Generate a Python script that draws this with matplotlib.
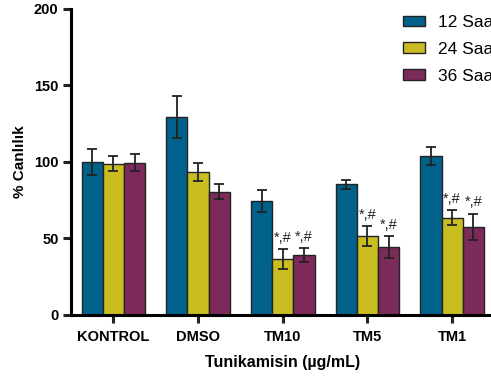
import matplotlib
matplotlib.use("Agg")
import matplotlib.pyplot as plt
import numpy as np

plt.rcParams["font.family"] = ["Liberation Sans", "DejaVu Sans"]

# veriler
groups = ["KONTROL", "DMSO", "TM10", "TM5", "TM1"]
series = ["12 Saat", "24 Saat", "36 Saat"]
vals_12 = [100, 129.5, 74.5, 85.5, 104]
vals_24 = [99, 93.5, 36.5, 51.5, 63.5]
vals_36 = [99.5, 80.5, 39, 44.5, 57.5]
err_12 = [8.5, 13.5, 7, 3, 6]
err_24 = [5, 6, 6.5, 6.5, 5]
err_36 = [5.5, 5, 4.5, 7, 8.5]
# anlamlılık işaretleri (24 ve 36 saat)
marks_24 = ["", "", "*,#", "*,#", "*,#"]
marks_36 = ["", "", "*,#", "*,#", "*,#"]

colors = ["#00628a", "#c9bd22", "#7b2a5a"]

fig = plt.figure(figsize=(4.91, 3.78), dpi=100)
ax = fig.add_axes([0.1446, 0.1667, 0.8625, 0.8095])

x = np.arange(len(groups))
w = 0.25
all_vals = [vals_12, vals_24, vals_36]
all_err = [err_12, err_24, err_36]
all_marks = [None, marks_24, marks_36]

for i in range(3):
    pos = x + (i - 1) * w
    ax.bar(pos, all_vals[i], width=w, color=colors[i], edgecolor="#222222",
           linewidth=1.0, label=series[i], zorder=2)
    ax.errorbar(pos, all_vals[i], yerr=all_err[i], fmt="none", ecolor="#222222",
                elinewidth=1.3, capsize=3.6, capthick=1.3, zorder=3)
    if all_marks[i] is not None:
        for p, v, e, m in zip(pos, all_vals[i], all_err[i], all_marks[i]):
            if m:
                ax.text(p, v + e + 3, m, ha="center", va="bottom", fontsize=10.5,
                        color="#222222", zorder=4)

ax.set_xlim(-0.5, 4.5)
ax.set_ylim(0, 200)
ax.set_yticks([0, 50, 100, 150, 200])
ax.set_xticks(x)
ax.set_xticklabels(groups, fontweight="bold", fontsize=10.5)
for lab in ax.get_yticklabels():
    lab.set_fontweight("bold")
    lab.set_fontsize(10.5)

ax.spines["top"].set_visible(False)
ax.spines["right"].set_visible(False)
ax.spines["left"].set_linewidth(2.2)
ax.spines["bottom"].set_linewidth(2.2)
ax.tick_params(axis="both", width=2.2, length=6, color="#222222", pad=3)
ax.tick_params(axis="x", pad=5)

ax.set_ylabel("% Canlılık", fontsize=11, fontweight="bold", labelpad=5)
ax.set_xlabel("Tunikamisin (µg/mL)", fontsize=11.5, fontweight="bold", labelpad=8)

leg = ax.legend(loc="upper left", bbox_to_anchor=(403 / 491, 1 - 15 / 378),
                bbox_transform=fig.transFigure, frameon=False, fontsize=12.5,
                handlelength=1.25, handleheight=0.55, handletextpad=0.75,
                labelspacing=0.68, borderpad=0, borderaxespad=0)

fig.savefig("out.png", dpi=100)
